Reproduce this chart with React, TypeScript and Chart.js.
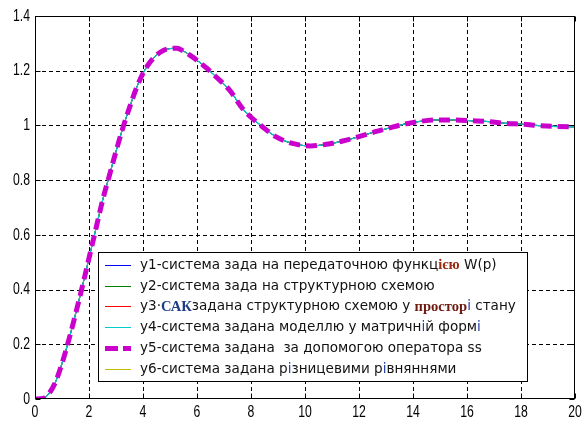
import React, { useEffect, useRef } from 'react';
import { Chart, registerables } from 'chart.js';

Chart.register(...registerables);

// time axis (s) and step response
const T = [0, 0.3, 0.5, 0.75, 1.0, 1.25, 1.5, 1.75, 2.0, 2.25, 2.5, 2.75, 3.0, 3.25, 3.5, 3.75, 4.0, 4.25, 4.5, 4.75, 5.0, 5.25, 5.5, 5.75, 6.0, 6.35, 6.7, 7.2, 7.7, 8.0, 8.4, 8.9, 9.5, 10.2, 10.8, 11.4, 12.0, 12.6, 13.1, 13.6, 14.2, 14.9, 15.5, 16.2, 16.8, 17.4, 18.1, 18.7, 19.3, 20];
const Y = [0, 0.002, 0.018, 0.06, 0.13, 0.215, 0.31, 0.41, 0.515, 0.62, 0.725, 0.815, 0.905, 0.99, 1.065, 1.135, 1.19, 1.23, 1.257, 1.274, 1.281, 1.282, 1.272, 1.256, 1.238, 1.21, 1.178, 1.13, 1.06, 1.03, 0.997, 0.96, 0.935, 0.925, 0.931, 0.943, 0.959, 0.977, 0.99, 1.003, 1.014, 1.02, 1.02, 1.017, 1.014, 1.008, 1.004, 0.999, 0.996, 0.995];

const X_TICKS = [0, 2, 4, 6, 8, 10, 12, 14, 16, 18, 20];
const Y_TICKS = [0, 0.2, 0.4, 0.6, 0.8, 1, 1.2, 1.4];
const X_TICK_LABELS = ['0', '2', '4', '6', '8', '10', '12', '14', '16', '18', '20'];
const Y_TICK_LABELS = ['0', '0.2', '0.4', '0.6', '0.8', '1', '1.2', '1.4'];

const SERIES_LABELS = [
  'y1-система зада на передаточною функцією W(p)',
  'y2-система зада на структурною схемою',
  'y3-САК задана структурною схемою у просторі стану',
  'y4-система задана моделлю у матричній формі',
  'y5-система задана  за допомогою оператора ss',
  'y6-система задана різницевими рівняннями',
];
const SERIES_COLORS = ['#0000ff', '#008000', '#ff0000', '#00cccc', '#cc00cc', '#bfbf00'];

// text runs that are rendered with a different (serif) font / colour in the legend
type Run = { t: string; serif?: boolean; color?: string };
const RUNS: Run[][] = [
  [{ t: 'y1-система зада на передаточною функц' }, { t: 'ією', serif: true, color: '#9a2a10' }, { t: ' W(p)' }],
  [{ t: 'y2-система зада на структурною схемою' }],
  [{ t: 'y3·' }, { t: 'САК', serif: true, color: '#1f3c88' }, { t: 'задана структурною схемою у ' }, { t: 'простор', serif: true, color: '#6e1a10' }, { t: 'і', color: '#2040b0' }, { t: ' стану' }],
  [{ t: 'y4-система задана моделлю у матричн' }, { t: 'і', color: '#2040b0' }, { t: 'й форм' }, { t: 'і', color: '#2040b0' }],
  [{ t: 'y5-система задана  за допомогою оператора ss' }],
  [{ t: 'y6-система задана р' }, { t: 'і', color: '#2040b0' }, { t: 'зницевими р' }, { t: 'і', color: '#2040b0' }, { t: 'вняннями' }],
];

export default function App() {
  const ref = useRef<HTMLCanvasElement>(null);

  useEffect(() => {
    document.body.style.margin = '0';
    const canvas = ref.current;
    if (!canvas) return;
    const orders = [4, 3, 2, 1, 0, 5];

    const datasets = SERIES_LABELS.map((label, i) => ({
      label,
      data: T.map((t, k) => ({ x: t, y: Y[k] })),
      borderColor: SERIES_COLORS[i],
      backgroundColor: SERIES_COLORS[i],
      borderWidth: i === 4 ? 5 : i === 3 ? 1.3 : 1,
      borderDash: i === 4 ? [11, 6] : [],
      borderCapStyle: 'butt' as const,
      pointRadius: 0,
      cubicInterpolationMode: 'monotone' as const,
      fill: false,
      order: orders[i],
    }));

    const sansFont = (s: number) => `${s}px "DejaVu Sans", sans-serif`;
    const serifFont = (s: number) => `bold ${s + 1}px "Liberation Serif", serif`;

    const measureRow = (ctx: CanvasRenderingContext2D, runs: Run[], s: number) => {
      let w = 0;
      for (const r of runs) {
        ctx.font = r.serif ? serifFont(s) : sansFont(s);
        w += ctx.measureText(r.t).width;
      }
      return w;
    };

    const drawNarrow = (ctx: CanvasRenderingContext2D, text: string, x: number, y: number, align: 'left' | 'right' | 'center') => {
      const sx = 0.72;
      ctx.save();
      ctx.font = '17px "Liberation Sans", Arial, sans-serif';
      ctx.fillStyle = '#000';
      ctx.textBaseline = 'middle';
      ctx.textAlign = align;
      ctx.translate(x, y);
      ctx.scale(sx, 1);
      ctx.fillText(text, 0, 0);
      ctx.restore();
    };

    const decor = {
      id: 'matlabDecor',
      beforeDatasetsDraw(chart: any) {
        const { ctx, chartArea: a, scales } = chart;
        ctx.save();
        ctx.fillStyle = '#fff';
        ctx.fillRect(a.left, a.top, a.right - a.left, a.bottom - a.top);
        ctx.strokeStyle = '#000';
        ctx.lineWidth = 1;
        ctx.setLineDash([4, 3]);
        for (const v of X_TICKS.slice(1, -1)) {
          const x = Math.round(scales.x.getPixelForValue(v)) + 0.5;
          ctx.beginPath();
          ctx.moveTo(x, a.top);
          ctx.lineTo(x, a.bottom);
          ctx.stroke();
        }
        for (const v of Y_TICKS.slice(1, -1)) {
          const y = Math.round(scales.y.getPixelForValue(v)) + 0.5;
          ctx.beginPath();
          ctx.moveTo(a.left, y);
          ctx.lineTo(a.right, y);
          ctx.stroke();
        }
        ctx.restore();

        // tick labels
        X_TICKS.forEach((v, i) => drawNarrow(ctx, X_TICK_LABELS[i], scales.x.getPixelForValue(v), a.bottom + 13, 'center'));
        Y_TICKS.forEach((v, i) => drawNarrow(ctx, Y_TICK_LABELS[i], a.left - 5, scales.y.getPixelForValue(v), 'right'));
      },
      afterDatasetsDraw(chart: any) {
        const { ctx, chartArea: a, scales } = chart;
        ctx.save();
        ctx.strokeStyle = '#000';
        ctx.lineWidth = 1;
        ctx.setLineDash([]);
        const L = Math.round(a.left) + 0.5, R = Math.round(a.right) - 0.5;
        const Tp = Math.round(a.top) + 0.5, B = Math.round(a.bottom) - 0.5;
        ctx.strokeRect(L, Tp, R - L, B - Tp);
        const tl = 5;
        ctx.beginPath();
        for (const v of X_TICKS) {
          const x = Math.round(scales.x.getPixelForValue(v)) + 0.5;
          ctx.moveTo(x, B); ctx.lineTo(x, B - tl);
          ctx.moveTo(x, Tp); ctx.lineTo(x, Tp + tl);
        }
        for (const v of Y_TICKS) {
          const y = Math.round(scales.y.getPixelForValue(v)) + 0.5;
          ctx.moveTo(L, y); ctx.lineTo(L + tl, y);
          ctx.moveTo(R, y); ctx.lineTo(R - tl, y);
        }
        ctx.stroke();

        // legend box
        const bx = 98.5, by = 252.5, bw = 429, bh = 129;
        ctx.fillStyle = '#fff';
        ctx.fillRect(bx, by, bw, bh);
        ctx.strokeRect(bx, by, bw, bh);

        const size = 13 * (357 / measureRow(ctx, RUNS[0], 13));
        const rowY0 = 265, rowStep = 20.7;
        RUNS.forEach((runs, i) => {
          const y = rowY0 + i * rowStep;
          ctx.save();
          ctx.strokeStyle = SERIES_COLORS[i];
          ctx.lineWidth = i === 4 ? 5 : 1;
          ctx.setLineDash(i === 4 ? [13, 5] : []);
          ctx.beginPath();
          ctx.moveTo(105, Math.round(y) + 0.5);
          ctx.lineTo(131, Math.round(y) + 0.5);
          ctx.stroke();
          ctx.restore();
          let x = 140;
          ctx.textBaseline = 'middle';
          ctx.textAlign = 'left';
          for (const r of runs) {
            ctx.font = r.serif ? serifFont(size) : sansFont(size);
            ctx.fillStyle = r.color || '#111';
            ctx.fillText(r.t, x, y + 0.5);
            x += ctx.measureText(r.t).width;
          }
        });
        ctx.restore();
      },
    };

    const chart = new Chart(canvas, {
      type: 'line',
      data: { datasets },
      options: {
        animation: false,
        responsive: true,
        maintainAspectRatio: false,
        layout: { padding: { left: 0, right: 11, top: 16, bottom: 0 } },
        plugins: { legend: { display: false }, tooltip: { enabled: false } },
        scales: {
          x: {
            type: 'linear',
            min: 0,
            max: 20,
            afterBuildTicks: (s: any) => { s.ticks = X_TICKS.map((v) => ({ value: v })); },
            afterFit: (s: any) => { s.height = 24; },
            grid: { display: false, drawTicks: false },
            border: { display: false },
            ticks: { display: false },
          },
          y: {
            type: 'linear',
            min: 0,
            max: 1.4,
            afterBuildTicks: (s: any) => { s.ticks = Y_TICKS.map((v) => ({ value: v })); },
            afterFit: (s: any) => { s.width = 35; },
            grid: { display: false, drawTicks: false },
            border: { display: false },
            ticks: { display: false },
          },
        },
      },
      plugins: [decor],
    });
    return () => chart.destroy();
  }, []);

  return (
    <div style={{ width: 586, height: 423, position: 'relative', background: '#fff' }}>
      <canvas ref={ref} />
    </div>
  );
}
